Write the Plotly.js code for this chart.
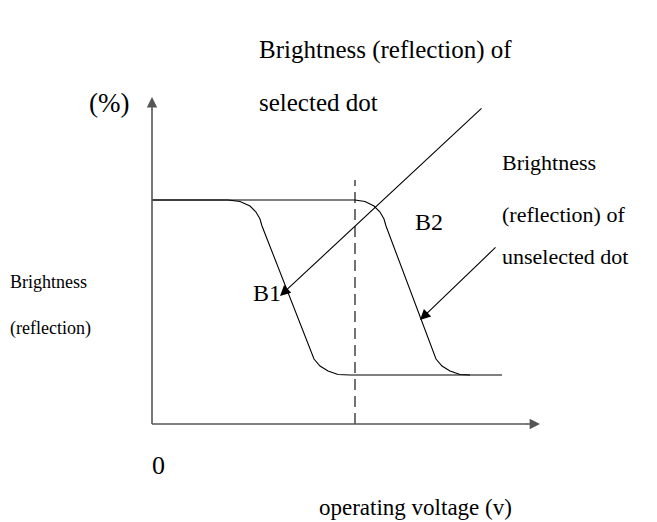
<!DOCTYPE html>
<html>
<head>
<meta charset="utf-8">
<script src="https://cdn.plot.ly/plotly-3.0.1.min.js"></script>
<style>html,body{margin:0;padding:0;background:#fff;}#chart{width:657px;height:522px;}</style>
</head>
<body>
<div id="chart"></div>
<script>
// Operating voltage (arbitrary units, origin at the axes' corner) and brightness (arbitrary units)
const b1Voltage    = [0, 76, 88, 98, 104, 108, 110, 158, 162, 168, 176, 186, 198, 350];
const b1Brightness = [224, 224, 222.5, 218, 212, 205, 198, 74, 65, 58, 53, 49.5, 49, 49];
const b2Voltage    = [0, 203, 213, 222, 228, 232, 234, 280, 284, 290, 298, 308, 318];
const b2Brightness = [224, 224, 222.5, 218, 212, 205, 198, 74, 65, 58, 53, 49.5, 49];
const dashVoltage    = [203, 203];
const dashBrightness = [0, 244];
const axisX = [0, 388];
const axisY = [0, 327];

const curveLine = {color: '#000', width: 1.1};
const font = (s) => ({family: '"Liberation Serif", "Times New Roman", serif', size: s, color: '#000'});

const traces = [
  {x: b1Voltage, y: b1Brightness, mode: 'lines', line: curveLine, hoverinfo: 'skip'},
  {x: b2Voltage, y: b2Brightness, mode: 'lines', line: curveLine, hoverinfo: 'skip'},
  {x: dashVoltage, y: dashBrightness, mode: 'lines', line: {color: '#000', width: 1.1, dash: '11px,6px'}, hoverinfo: 'skip'},
  {x: [axisX[0], axisX[1] - 12], y: [0, 0], mode: 'lines', line: {color: '#555', width: 1.6}, hoverinfo: 'skip'},
  {x: [0, 0], y: [axisY[0], axisY[1] - 12], mode: 'lines', line: {color: '#555', width: 1.6}, hoverinfo: 'skip'}
];

const arrow = (x, y, ax, ay, color, w, size) => ({
  x: x, y: y, ax: ax, ay: ay, xref: 'x', yref: 'y', axref: 'x', ayref: 'y',
  text: '', showarrow: true, arrowhead: 2, arrowsize: size, arrowwidth: w, arrowcolor: color,
  standoff: 0, startstandoff: 0
});
const label = (text, x, y, size, xanchor) => ({
  text: text, x: x, y: y, xref: 'x', yref: 'y', showarrow: false,
  xanchor: xanchor || 'left', yanchor: 'middle', font: font(size)
});

const annotations = [
  arrow(axisX[1], 0, axisX[1] - 14, 0, '#555', 1.6, 1.3),
  arrow(0, axisY[1], 0, axisY[1] - 14, '#555', 1.6, 1.3),
  arrow(128, 128, 331, 317, '#000', 1.1, 1.9),
  arrow(268, 104, 345, 178, '#000', 1.1, 1.9),
  label('Brightness (reflection) of', 105, 374, 25),
  label('selected dot', 105, 322, 25),
  label('(%)', -43, 321, 27, 'center'),
  label('Brightness', 348, 262, 22),
  label('(reflection) of', 348, 210, 22),
  label('unselected dot', 348, 168, 22),
  label('B2', 277, 202, 24, 'center'),
  label('B1', 115, 131, 24, 'center'),
  label('Brightness', -144, 142, 18),
  label('(reflection)', -144, 96, 18),
  label('0', 6, -41, 26, 'center'),
  label('operating voltage (v)', 263, -83, 23, 'center')
];

const layout = {
  width: 657, height: 522,
  margin: {l: 0, r: 0, t: 0, b: 0},
  paper_bgcolor: '#fff', plot_bgcolor: '#fff',
  showlegend: false,
  xaxis: {range: [-152, 505], visible: false, fixedrange: true},
  yaxis: {range: [-98, 424], visible: false, fixedrange: true},
  annotations: annotations
};

Plotly.newPlot('chart', traces, layout, {staticPlot: true, displayModeBar: false});
</script>
</body>
</html>
